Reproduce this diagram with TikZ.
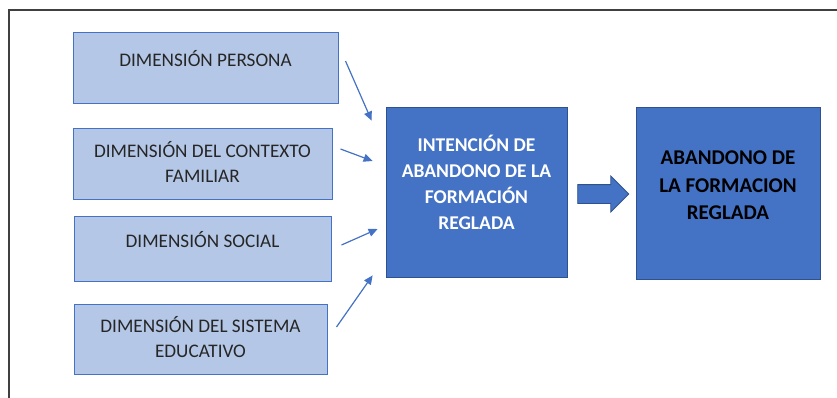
\documentclass[tikz,border=0pt]{standalone}
\usepackage{fontspec}
\setmainfont{Carlito}
\usetikzlibrary{arrows.meta,shapes.arrows,calc}

\definecolor{azulclaro}{HTML}{B4C7E7}
\definecolor{azul}{HTML}{4472C4}
\definecolor{azuloscuro}{HTML}{2F528F}
\definecolor{marco}{HTML}{404040}

% espacio bajo la ultima linea, sube el texto dentro de la caja
\newcommand{\hueco}[1]{\rule[-#1]{0pt}{#1}}

\begin{document}
\begin{tikzpicture}[x=1pt, y=-1pt,
    dimension/.style={draw=azul, fill=azulclaro, line width=1pt, inner sep=0pt,
                      align=center, text=black!85,
                      font=\fontsize{19.2}{25}\selectfont},
    bloque/.style={draw=azuloscuro, fill=azul, line width=0.8pt, inner sep=0pt,
                   align=center},
    conector/.style={draw=azul, line width=1.2pt,
                     -{Triangle[length=9pt, width=8pt]}}]

            \useasboundingbox (0,0) rectangle (837,398);

            % marco
            \draw [marco, line width=1.5pt] (9,398) -- (9,10) -- (837,10);

            % dimensiones
            \node [dimension, minimum width=265pt, minimum height=71pt]
                  (persona) at (205.5,68.5) {DIMENSIÓN PERSONA\hueco{20pt}};
            \node [dimension, minimum width=259pt, minimum height=70pt]
                  (contexto) at (202.5,164)
                  {DIMENSIÓN DEL CONTEXTO\\FAMILIAR\hueco{4pt}};
            \node [dimension, minimum width=257pt, minimum height=65pt]
                  (social) at (202.5,248.5) {DIMENSIÓN SOCIAL\hueco{19pt}};
            \node [dimension, minimum width=253pt, minimum height=70pt]
                  (sistema) at (200.5,339)
                  {DIMENSIÓN DEL SISTEMA\\EDUCATIVO\hueco{5pt}};

            % intencion y abandono
            \node [bloque, minimum width=181pt, minimum height=170pt,
                   text=white, font=\bfseries\fontsize{19.5}{26}\selectfont]
                  (intencion) at (476.5,192)
                  {INTENCIÓN DE\\ABANDONO DE LA\\FORMACIÓN\\REGLADA\hueco{20pt}};
            \node [bloque, minimum width=184pt, minimum height=172pt,
                   text=black, font=\bfseries\fontsize{21}{27.5}\selectfont]
                  (abandono) at (728,193)
                  {ABANDONO DE\\LA FORMACION\\REGLADA\hueco{15pt}};

            \node [single arrow, draw=azuloscuro, fill=azul, line width=0.8pt,
                   minimum height=51pt, inner xsep=0pt, inner ysep=9pt,
                   single arrow head extend=8.5pt, single arrow tip angle=90]
                  (flecha) at ($(intencion.east)!0.5!(abandono.west)+(-3,1.5)$) {};

            \draw [conector] ([shift={(7,-7.5)}]persona.east)
                  -- ([shift={(-14,14)}]intencion.north west); % persona
            \draw [conector] ([shift={(8,-15)}]contexto.east)
                  -- ([shift={(-13,-31)}]intencion.west); % contexto familiar
            \draw [conector] ([shift={(10,-3.5)}]social.east)
                  -- ([shift={(-8,37)}]intencion.west); % social
            \draw [conector] ([shift={(9,-12)}]sistema.east)
                  -- ([shift={(-13,-2)}]intencion.south west); % sistema educativo
        \end{tikzpicture}
\end{document}
